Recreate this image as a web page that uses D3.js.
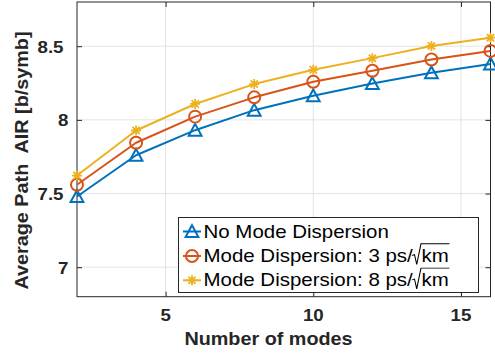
<!DOCTYPE html>
<html>
<head>
<meta charset="utf-8">
<script src="https://cdn.jsdelivr.net/npm/d3@7"></script>
<style>
  html, body { margin: 0; padding: 0; background: #fff; }
  svg { display: block; font-family: "Liberation Sans", Arial, Helvetica, sans-serif; }
</style>
</head>
<body>
<svg id="chart" width="495" height="353"></svg>
<script>
// Number of modes on the x axis
const modes = [2, 4, 6, 8, 10, 12, 14, 16];
// Average path AIR [b/symb] for each case
const noDispersion = [7.48, 7.76, 7.93, 8.066, 8.164, 8.247, 8.32, 8.38];
const dispersion3 = [7.56, 7.845, 8.022, 8.153, 8.259, 8.333, 8.41, 8.468];
const dispersion8 = [7.622, 7.928, 8.108, 8.243, 8.34, 8.419, 8.502, 8.558];

const xTicks = [5, 10, 15];
const yTicks = [7, 7.5, 8, 8.5];

const seriesNames = [
  { main: "No Mode Dispersion", unit: null },
  { main: "Mode Dispersion: 3 ps/", unit: "km" },
  { main: "Mode Dispersion: 8 ps/", unit: "km" }
];

const series = [
  { values: noDispersion, color: "#0072BD", marker: "triangle", label: seriesNames[0] },
  { values: dispersion3, color: "#D95319", marker: "circle", label: seriesNames[1] },
  { values: dispersion8, color: "#EDB120", marker: "asterisk", label: seriesNames[2] }
];

const svg = d3.select("#chart");
const plot = { left: 77, right: 490.5, top: 2, bottom: 296.7 };
const axisColor = "#262626";
const textColor = "#262626";

const x = d3.scaleLinear().domain([2, 16]).range([plot.left, plot.right]);
const y = d3.scaleLinear().domain([6.8, 8.8]).range([plot.bottom, plot.top]);

// Grid lines
const grid = svg.append("g");
grid.selectAll("line.gx").data(xTicks).join("line")
  .attr("x1", d => x(d)).attr("x2", d => x(d))
  .attr("y1", plot.top).attr("y2", plot.bottom)
  .attr("stroke", "#e3e3e3").attr("stroke-width", 1);
grid.selectAll("line.gy").data(yTicks).join("line")
  .attr("x1", plot.left).attr("x2", plot.right)
  .attr("y1", d => y(d)).attr("y2", d => y(d))
  .attr("stroke", "#e3e3e3").attr("stroke-width", 1);

// Axes with inward ticks on all four sides
function styleAxis(g) {
  g.select(".domain").remove();
  g.selectAll(".tick line").attr("stroke", axisColor).attr("stroke-width", 1);
  g.selectAll(".tick text").remove();
}
svg.append("g").attr("transform", `translate(0,${plot.bottom})`)
  .call(d3.axisBottom(x).tickValues(xTicks).tickSize(-5)).call(styleAxis);
svg.append("g").attr("transform", `translate(0,${plot.top})`)
  .call(d3.axisTop(x).tickValues(xTicks).tickSize(-5)).call(styleAxis);
svg.append("g").attr("transform", `translate(${plot.left},0)`)
  .call(d3.axisLeft(y).tickValues(yTicks).tickSize(-5)).call(styleAxis);
svg.append("g").attr("transform", `translate(${plot.right},0)`)
  .call(d3.axisRight(y).tickValues(yTicks).tickSize(-5)).call(styleAxis);

// Axis box
svg.append("rect")
  .attr("x", plot.left).attr("y", plot.top)
  .attr("width", plot.right - plot.left).attr("height", plot.bottom - plot.top)
  .attr("fill", "none").attr("stroke", axisColor).attr("stroke-width", 1);

// Tick labels
const stretch = 1.1;
svg.append("g").selectAll("text").data(xTicks).join("text")
  .attr("transform", d => `translate(${x(d)},321) scale(${stretch},1)`)
  .attr("text-anchor", "middle")
  .attr("font-size", 17).attr("font-weight", "bold").attr("fill", textColor)
  .text(d => d);
svg.append("g").selectAll("text").data(yTicks).join("text")
  .attr("transform", d => `translate(${Number.isInteger(d) ? 68.5 : 63.5},${y(d) + 6.3}) scale(${stretch},1)`)
  .attr("text-anchor", "end")
  .attr("font-size", 17).attr("font-weight", "bold").attr("fill", textColor)
  .text(d => d);

// Axis titles
svg.append("text")
  .attr("transform", `translate(268.5,345) scale(${stretch},1)`)
  .attr("text-anchor", "middle")
  .attr("font-size", 18).attr("font-weight", "bold").attr("fill", textColor)
  .text("Number of modes");
svg.append("text")
  .attr("transform", `translate(28,160.5) rotate(-90) scale(${stretch},1)`)
  .attr("text-anchor", "middle")
  .attr("font-size", 18).attr("font-weight", "bold").attr("fill", textColor)
  .style("white-space", "pre")
  .text("Average Path  AIR [b/symb]");

// Marker shapes
function drawMarker(g, type, color) {
  if (type === "triangle") {
    g.append("path").attr("d", "M0,-6.3 L6.4,5.5 L-6.4,5.5 Z")
      .attr("fill", "none").attr("stroke", color).attr("stroke-width", 2)
      .attr("stroke-linejoin", "miter");
  } else if (type === "circle") {
    g.append("circle").attr("r", 6)
      .attr("fill", "none").attr("stroke", color).attr("stroke-width", 2);
  } else {
    g.append("path").attr("d", "M-5,0 H5 M0,-5 V5 M-3.6,-3.6 L3.6,3.6 M-3.6,3.6 L3.6,-3.6")
      .attr("fill", "none").attr("stroke", color).attr("stroke-width", 1.8);
  }
}

// Lines and markers
const line = d3.line().x((d, i) => x(modes[i])).y(d => y(d));
series.forEach(s => {
  svg.append("path").datum(s.values)
    .attr("d", line)
    .attr("fill", "none").attr("stroke", s.color).attr("stroke-width", 2)
    .attr("stroke-linejoin", "round");
  svg.append("g").selectAll("g").data(s.values).join("g")
    .attr("transform", (d, i) => `translate(${x(modes[i])},${y(d)})`)
    .each(function () { drawMarker(d3.select(this), s.marker, s.color); });
});

// Legend
const legend = svg.append("g");
legend.append("rect")
  .attr("x", 178.5).attr("y", 217.5).attr("width", 300).attr("height", 75)
  .attr("fill", "#fff").attr("stroke", axisColor).attr("stroke-width", 1);
const baselines = [237.5, 262, 286.3];
const legendStretch = 1.17;
series.forEach((s, i) => {
  const cy = baselines[i] - 6;
  legend.append("line")
    .attr("x1", 183).attr("x2", 201).attr("y1", cy).attr("y2", cy)
    .attr("stroke", s.color).attr("stroke-width", 2);
  drawMarker(legend.append("g").attr("transform", `translate(192,${cy})`), s.marker, s.color);

  const tg = legend.append("g")
    .attr("transform", `translate(203.5,${baselines[i]}) scale(${legendStretch},1)`);
  const t = tg.append("text")
    .attr("font-size", 17.5).attr("fill", "#000")
    .style("white-space", "pre");
  t.append("tspan").text(s.label.main);
  if (s.label.unit) {
    const radW = 7.5;
    t.append("tspan").attr("dx", radW).text(s.label.unit);
    const node = t.node();
    const n = s.label.main.length;
    const start = node.getEndPositionOfChar(n - 1).x;
    const kmStart = node.getStartPositionOfChar(n).x;
    const kmEnd = node.getEndPositionOfChar(n + s.label.unit.length - 1).x;
    const top = -18.2;
    tg.append("path")
      .attr("d", `M${start - 0.5},-6.5 L${start + 1.5},-7.3 L${start + 3.4},2.5 L${kmStart - 0.5},${top} L${kmEnd + 0.5},${top}`)
      .attr("fill", "none").attr("stroke", "#000").attr("stroke-width", 0.9);
  }
});
</script>
</body>
</html>
